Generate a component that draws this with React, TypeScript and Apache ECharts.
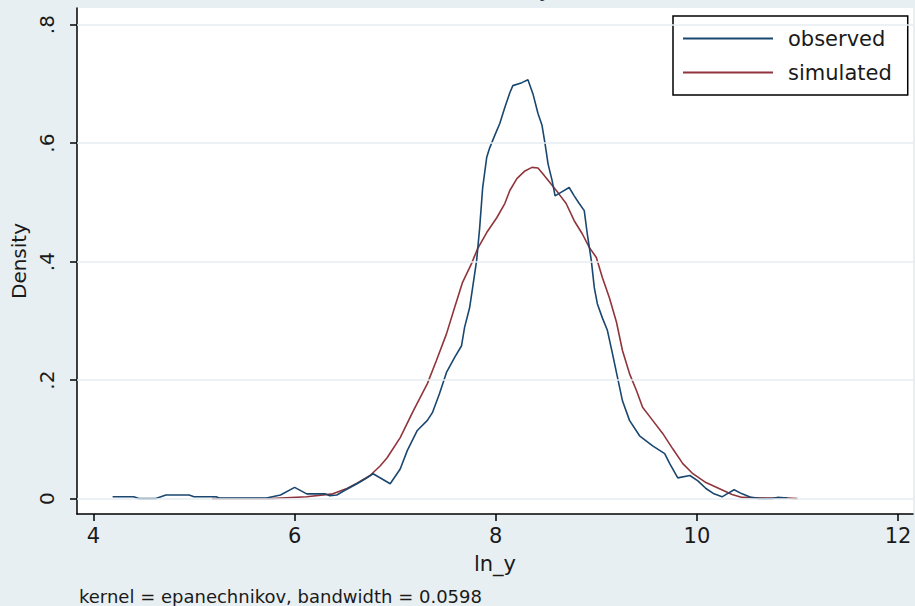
import React, { useEffect, useRef } from "react";
import * as echarts from "echarts";

const obsX = [4.19, 4.40, 4.45, 4.62, 4.72, 4.95, 5.00, 5.22, 5.25, 5.72, 5.86, 6.00, 6.12, 6.30, 6.35, 6.42, 6.50, 6.62, 6.70, 6.78, 6.87, 6.95, 7.05, 7.12, 7.22, 7.32, 7.37, 7.44, 7.51, 7.59, 7.66, 7.69, 7.74, 7.77, 7.81, 7.84, 7.87, 7.91, 7.94, 7.99, 8.04, 8.09, 8.14, 8.17, 8.26, 8.32, 8.37, 8.42, 8.46, 8.49, 8.52, 8.56, 8.59, 8.64, 8.73, 8.78, 8.83, 8.88, 8.91, 8.95, 8.98, 9.01, 9.06, 9.11, 9.16, 9.21, 9.26, 9.33, 9.43, 9.56, 9.68, 9.73, 9.81, 9.93, 10.01, 10.09, 10.17, 10.25, 10.30, 10.37, 10.45, 10.54, 10.62, 10.75, 10.80, 10.90];
const obsY = [0.003, 0.003, 0.0, 0.0, 0.006, 0.006, 0.003, 0.003, 0.001, 0.001, 0.006, 0.019, 0.008, 0.008, 0.005, 0.006, 0.014, 0.025, 0.033, 0.042, 0.033, 0.025, 0.05, 0.081, 0.115, 0.132, 0.145, 0.177, 0.213, 0.238, 0.258, 0.289, 0.322, 0.356, 0.402, 0.457, 0.525, 0.576, 0.592, 0.613, 0.633, 0.66, 0.685, 0.697, 0.702, 0.707, 0.683, 0.65, 0.63, 0.599, 0.565, 0.537, 0.511, 0.516, 0.525, 0.511, 0.498, 0.486, 0.447, 0.402, 0.356, 0.329, 0.305, 0.284, 0.245, 0.205, 0.165, 0.132, 0.106, 0.089, 0.076, 0.059, 0.035, 0.039, 0.03, 0.017, 0.008, 0.003, 0.008, 0.015, 0.008, 0.002, 0.0, 0.0, 0.002, 0.001];

const simX = [5.18, 5.76, 6.12, 6.38, 6.52, 6.62, 6.75, 6.85, 6.92, 7.05, 7.18, 7.32, 7.41, 7.51, 7.59, 7.67, 7.76, 7.82, 7.91, 8.01, 8.09, 8.14, 8.21, 8.29, 8.36, 8.42, 8.46, 8.54, 8.62, 8.70, 8.78, 8.86, 8.93, 9.00, 9.06, 9.13, 9.20, 9.26, 9.33, 9.40, 9.46, 9.56, 9.66, 9.76, 9.86, 9.96, 10.09, 10.22, 10.35, 10.45, 10.69, 10.90, 11.00];
const simY = [0.0, 0.0, 0.003, 0.008, 0.017, 0.026, 0.039, 0.055, 0.069, 0.103, 0.148, 0.194, 0.233, 0.278, 0.322, 0.365, 0.397, 0.422, 0.449, 0.474, 0.498, 0.52, 0.54, 0.553, 0.559, 0.558, 0.55, 0.533, 0.516, 0.498, 0.469, 0.447, 0.424, 0.407, 0.373, 0.339, 0.298, 0.25, 0.211, 0.182, 0.154, 0.132, 0.11, 0.084, 0.059, 0.042, 0.027, 0.017, 0.007, 0.002, 0.001, 0.001, 0.0];

const xTicks = [4, 6, 8, 10, 12];
const yTicks = [0, 0.2, 0.4, 0.6, 0.8];
const seriesNames = ["observed", "simulated"];
const xTitle = "ln_y";
const yTitle = "Density";
const noteText = "kernel = epanechnikov, bandwidth = 0.0598";
const titleText = "Kernel density estimate";

const FONT = "'DejaVu Sans', 'Liberation Sans', sans-serif";
const BG = "#e8eff2";
const GRIDC = "#e4edf1";
const BLUE = "#1a476f";
const RED = "#90353b";
const INK = "#1a1a1a";

export default function App() {
  const ref = useRef<HTMLDivElement>(null);
  useEffect(() => {
    if (!ref.current) return;
    const chart = echarts.init(ref.current, null, { renderer: "svg" });
    const obs = obsX.map((x, i) => [x, obsY[i]]);
    const sim = simX.map((x, i) => [x, simY[i]]);
    chart.setOption({
      animation: false,
      backgroundColor: BG,
      textStyle: { fontFamily: FONT },
      grid: {
        left: 77,
        top: 8,
        right: 2,
        bottom: 92,
        show: true,
        backgroundColor: "#ffffff",
        borderWidth: 0,
      },
      legend: {
        data: seriesNames,
        orient: "vertical",
        left: 673,
        top: 16,
        backgroundColor: "#ffffff",
        borderColor: "#000000",
        borderWidth: 1.5,
        borderRadius: 0,
        padding: [10, 16, 10, 10],
        itemGap: 9,
        itemWidth: 90,
        itemHeight: 2,
        icon: "rect",
        textStyle: {
          fontFamily: FONT,
          fontSize: 21,
          color: INK,
          lineHeight: 25,
          padding: [0, 0, 0, 10],
        },
      },
      xAxis: {
        type: "value",
        min: 3.836,
        max: 12.149,
        name: xTitle,
        nameLocation: "middle",
        nameGap: 39,
        nameTextStyle: { fontFamily: FONT, fontSize: 21, color: INK },
        axisLine: { show: true, onZero: false, lineStyle: { color: "#000", width: 1.5 } },
        axisTick: { show: true, customValues: xTicks, length: 7, lineStyle: { color: "#000", width: 1.5 } },
        axisLabel: { customValues: xTicks, fontFamily: FONT, fontSize: 21, color: INK, margin: 11 },
        splitLine: { show: false },
      },
      yAxis: {
        type: "value",
        min: -0.026,
        max: 0.828,
        name: yTitle,
        nameLocation: "middle",
        nameRotate: 90,
        nameGap: 46,
        nameTextStyle: { fontFamily: FONT, fontSize: 20, color: INK },
        axisLine: { show: true, onZero: false, lineStyle: { color: "#000", width: 1.5 } },
        axisTick: { show: true, customValues: yTicks, length: 7, lineStyle: { color: "#000", width: 1.5 } },
        axisLabel: {
          customValues: yTicks,
          rotate: 90,
          fontFamily: FONT,
          fontSize: 20,
          color: INK,
          margin: 20,
          formatter: (v: number) => (v === 0 ? "0" : String(v).replace(/^0/, "")),
        },
        splitLine: { show: false },
      },
      graphic: [
        {
          type: "text",
          x: 395,
          y: 0,
          silent: true,
          style: {
            text: titleText,
            font: `22px ${FONT}`,
            fill: "#1e3a64",
            textAlign: "left",
            textVerticalAlign: "bottom",
          },
        },
        {
          type: "text",
          x: 79,
          y: 596,
          silent: true,
          style: {
            text: noteText,
            font: `18px ${FONT}`,
            fill: INK,
            textAlign: "left",
            textVerticalAlign: "middle",
          },
        },
      ],
      series: [
        {
          name: "grid",
          type: "line",
          data: [],
          z: 1,
          silent: true,
          markLine: {
            silent: true,
            symbol: ["none", "none"],
            label: { show: false },
            lineStyle: { color: GRIDC, width: 1.5, type: "solid" },
            data: yTicks.map((v) => ({ yAxis: v })),
          },
        },
        {
          name: seriesNames[0],
          type: "line",
          data: obs,
          z: 3,
          showSymbol: false,
          symbol: "none",
          color: BLUE,
          lineStyle: { color: BLUE, width: 1.6 },
        },
        {
          name: seriesNames[1],
          type: "line",
          data: sim,
          z: 2,
          showSymbol: false,
          symbol: "none",
          color: RED,
          lineStyle: { color: RED, width: 1.6 },
        },
      ],
    });
    return () => chart.dispose();
  }, []);
  return (
    <div
      ref={ref}
      style={{ position: "fixed", left: 0, top: 0, width: 915, height: 606 }}
    />
  );
}
